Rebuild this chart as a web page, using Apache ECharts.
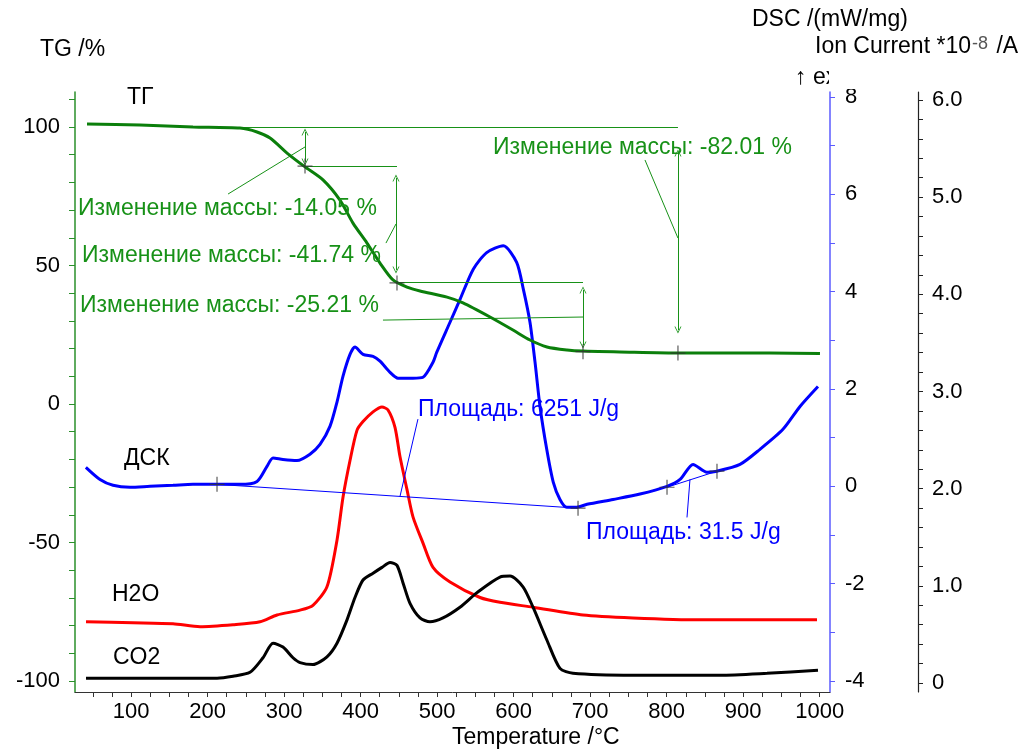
<!DOCTYPE html>
<html>
<head>
<meta charset="utf-8">
<script src="https://cdn.jsdelivr.net/npm/echarts@6/dist/echarts.min.js"></script>
<style>
  html, body { margin: 0; padding: 0; background: #fff; }
  #chart { width: 1024px; height: 749px; }
</style>
</head>
<body>
<div id="chart"></div>
<script>
// TG curve (%)
const tgTemp = [42.5, 111.8, 181, 242.4, 264.7, 281.7, 303.9, 327.4, 350.9, 373.1, 390.1, 408.4, 425.4, 442.4, 460.7, 477.7, 513, 533.9, 569.2, 599.2, 621.4, 643.6, 669.8, 690.7, 739, 817.5, 935, 1000.4]
const tgVal = [101.1, 100.7, 100, 99.6, 98.2, 96.0, 90.6, 85.6, 80.9, 73.6, 65.3, 58.1, 50.9, 44.8, 42.2, 40.8, 38.6, 36.5, 31.4, 26.7, 23.1, 20.6, 19.5, 19.1, 18.8, 18.4, 18.4, 18.2]

// DSC curve (mW/mg)
const dscTemp = [41, 59.5, 76.5, 98.7, 124.8, 154.9, 181, 212.4, 242.4, 264.7, 277.7, 285.6, 298.6, 316.9, 333.9, 347, 360, 369.2, 377, 386.2, 392.7, 403.2, 416.3, 425.4, 438.5, 448.9, 468.5, 481.6, 494.7, 499.5, 516.9, 530, 547.3, 564.8, 586.5, 604, 612.7, 621.4, 628, 634.5, 643.3, 651.9, 660.6, 669.4, 682.4, 696, 730, 765.2, 800.5, 817.5, 834.5, 852.7, 865.8, 895.9, 922, 952, 974.3, 997.8]
const dscVal = [0.39, 0.14, 0.02, -0.02, 0.0, 0.02, 0.04, 0.04, 0.04, 0.10, 0.41, 0.58, 0.55, 0.53, 0.66, 0.86, 1.23, 1.73, 2.26, 2.71, 2.86, 2.71, 2.67, 2.57, 2.34, 2.22, 2.22, 2.24, 2.55, 2.75, 3.37, 3.84, 4.46, 4.80, 4.94, 4.60, 4.05, 3.37, 2.55, 1.64, 0.76, 0.08, -0.27, -0.43, -0.43, -0.37, -0.27, -0.16, 0.0, 0.14, 0.45, 0.29, 0.31, 0.45, 0.76, 1.17, 1.64, 2.05]

// Ion current *10^-8 A
const h2oTemp = [41.2, 102.6, 154.9, 190.2, 233.3, 268.6, 290.8, 320.9, 337.8, 356.1, 369.2, 377, 386.2, 395.3, 403.2, 416.3, 428, 435.9, 445, 451.5, 460.7, 468.5, 481.6, 494.7, 516.9, 556.1, 582.2, 625.4, 690.7, 756, 843.6, 996.5]
const h2oVal = [0.63, 0.62, 0.61, 0.58, 0.60, 0.63, 0.70, 0.75, 0.80, 0.99, 1.47, 1.91, 2.29, 2.60, 2.69, 2.79, 2.84, 2.81, 2.63, 2.33, 1.99, 1.71, 1.44, 1.19, 1.04, 0.88, 0.83, 0.78, 0.70, 0.67, 0.65, 0.65]
const co2Temp = [41.2, 212.4, 233.3, 255.5, 272.5, 285.6, 298.6, 311.7, 320.9, 337.8, 356.1, 369.2, 382.3, 392.7, 403.2, 416.3, 428, 438.5, 447.6, 455.5, 464.6, 477.7, 490.7, 507.7, 529.9, 552.2, 582.2, 595.3, 612.3, 625.4, 643.6, 660.6, 677.6, 756, 869.7, 931.2, 997.8]
const co2Val = [0.05, 0.05, 0.07, 0.11, 0.26, 0.41, 0.37, 0.26, 0.21, 0.19, 0.27, 0.41, 0.65, 0.88, 1.06, 1.13, 1.19, 1.24, 1.21, 1.03, 0.82, 0.67, 0.63, 0.67, 0.78, 0.93, 1.09, 1.10, 0.99, 0.78, 0.44, 0.15, 0.10, 0.08, 0.08, 0.10, 0.13]

// evaluation points (step marks)
const tgMarkTemp = [327.4, 447.6, 690.7, 814.8]
const tgMarkVal = [85.9, 43.7, 18.9, 18.4]
const dscMarkTemp = [212.4, 684.2, 800.5, 865.8]
const dscMarkVal = [0.04, -0.45, -0.02, 0.31]

// tick labels
const xLabels = [100, 200, 300, 400, 500, 600, 700, 800, 900, 1000]
const tgLabels = [-100, -50, 0, 50, 100]
const dscLabels = [-4, -2, 0, 2, 4, 6, 8]
const ionLabels = [0, 1, 2, 3, 4, 5, 6]

const FONT = 'Liberation Sans'
const GREEN = '#0b7f0b'
const GREEN_T = '#179117'
const BLUE = '#0000ff'

const zip = (a, b) => a.map((v, i) => [v, b[i]])
const steps = (from, to, st) => {
  const out = []
  for (let v = from; v <= to + 1e-9; v += st) out.push(+v.toFixed(3))
  return out
}

const chevron = 'path://M0,10 L5,0 L10,10 L8.8,10 L5,2.4 L1.2,10 Z'
const plus = 'path://M4.6,0 H5.4 V4.6 H10 V5.4 H5.4 V10 H4.6 V5.4 H0 V4.6 H4.6 Z'

const seg = (a, b, arrows) => [
  { coord: a, symbol: arrows ? chevron : 'none', symbolSize: 7 },
  { coord: b, symbol: arrows ? chevron : 'none', symbolSize: 7 }
]

const txt = (x, y, s, color, extra) => ({
  type: 'text', x: x, y: y, z: 50,
  style: Object.assign({ text: s, fill: color || '#000', font: '23px "' + FONT + '"', verticalAlign: 'middle', textVerticalAlign: 'middle' }, extra || {})
})

const tickFont = { color: '#000', fontSize: 22, fontFamily: FONT }

const myChart = echarts.init(document.getElementById('chart'))
const option = {
  animation: false,
  backgroundColor: '#fff',
  grid: { left: 75, right: 194, top: 92, bottom: 57 },
  xAxis: {
    type: 'value', min: 26.8, max: 1013.5,
    axisLine: { onZero: false, lineStyle: { color: '#333', width: 1 } },
    axisTick: { customValues: steps(50, 1000, 25), length: 5, lineStyle: { color: '#333' } },
    axisLabel: Object.assign({ customValues: xLabels, margin: 9, formatter: v => String(v) }, tickFont),
    splitLine: { show: false }
  },
  yAxis: [
    {
      type: 'value', min: -103.97, max: 112.64, position: 'left',
      axisLine: { show: true, onZero: false, lineStyle: { color: '#2a8f2a', width: 1.5 } },
      axisTick: { show: true, customValues: steps(-100, 110, 10), length: 6, lineStyle: { color: '#2a8f2a' } },
      axisLabel: Object.assign({ customValues: tgLabels, margin: 15 }, tickFont),
      splitLine: { show: false }
    },
    {
      type: 'value', min: -4.226, max: 8.10, position: 'right', offset: 0,
      axisLine: { show: true, onZero: false, lineStyle: { color: '#5b5bff', width: 1.5 } },
      axisTick: { show: true, customValues: steps(-4, 8, 1), length: 5, lineStyle: { color: '#5b5bff' } },
      axisLabel: Object.assign({ customValues: dscLabels, margin: 15 }, tickFont),
      splitLine: { show: false }
    },
    {
      type: 'value', min: -0.0926, max: 6.082, position: 'right', offset: 88,
      axisLine: { show: true, onZero: false, lineStyle: { color: '#222', width: 1.2 } },
      axisTick: { show: true, customValues: steps(0, 6, 0.2), length: 5, lineStyle: { color: '#222' } },
      axisLabel: Object.assign({
        customValues: ionLabels, margin: 14,
        formatter: v => v === 0 ? '0' : v.toFixed(1)
      }, tickFont),
      splitLine: { show: false }
    }
  ],
  series: [
    {
      name: 'TG', type: 'line', yAxisIndex: 0, data: zip(tgTemp, tgVal),
      showSymbol: false, smooth: 0.25,
      lineStyle: { color: GREEN, width: 3 }, z: 5,
      markLine: {
        silent: true, animation: false, symbol: 'none',
        label: { show: false },
        lineStyle: { color: GREEN_T, width: 1, type: 'solid' },
        data: [
          seg([200, 100], [814.8, 100]),
          seg([327.4, 98.2], [327.4, 87.4], true),
          seg([226.8, 75.8], [327.4, 92.8]),
          seg([327.4, 85.95], [447.6, 85.95]),
          seg([446.3, 81.6], [446.3, 48.4], true),
          seg([433.2, 58.1], [446.3, 65.0]),
          seg([447.6, 44.0], [690.7, 44.0]),
          seg([690.7, 41.2], [690.7, 21.3], true),
          seg([429.3, 30.3], [690.7, 31.4]),
          seg([814.8, 90.6], [814.8, 26.7], true),
          seg([771.7, 88.1], [814.8, 59.9])
        ]
      }
    },
    {
      name: 'DSC', type: 'line', yAxisIndex: 1, data: zip(dscTemp, dscVal),
      showSymbol: false, smooth: 0.25,
      lineStyle: { color: BLUE, width: 3 }, z: 4,
      markLine: {
        silent: true, animation: false, symbol: 'none',
        label: { show: false },
        lineStyle: { color: BLUE, width: 1, type: 'solid' },
        data: [
          seg([212.4, 0.04], [684.2, -0.45]),
          seg([800.5, -0.02], [865.8, 0.31]),
          seg([451.5, -0.21], [475, 1.38]),
          seg([826.6, -0.64], [830.5, 0.14])
        ]
      }
    },
    {
      name: 'H2O', type: 'line', yAxisIndex: 2, data: zip(h2oTemp, h2oVal),
      showSymbol: false, smooth: 0.25,
      lineStyle: { color: '#ff0000', width: 3 }, z: 3
    },
    {
      name: 'CO2', type: 'line', yAxisIndex: 2, data: zip(co2Temp, co2Val),
      showSymbol: false, smooth: 0.25,
      lineStyle: { color: '#000', width: 3 }, z: 3
    },
    {
      type: 'scatter', yAxisIndex: 0, data: zip(tgMarkTemp, tgMarkVal),
      symbol: plus, symbolSize: 15, itemStyle: { color: '#333' }, z: 8, silent: true
    },
    {
      type: 'scatter', yAxisIndex: 1, data: zip(dscMarkTemp, dscMarkVal),
      symbol: plus, symbolSize: 15, itemStyle: { color: '#333' }, z: 8, silent: true
    }
  ],
  graphic: [
    txt(40, 50, 'TG /%'),
    txt(752, 20, 'DSC /(mW/mg)'),
    {
      type: 'text', x: 815, y: 47, z: 50,
      style: {
        text: '{a|Ion Current *10}{b|-8}{a| /A}',
        verticalAlign: 'middle',
        rich: {
          a: { fontSize: 23, fontFamily: FONT, fill: '#000' },
          b: { fontSize: 18, fontFamily: FONT, fill: '#555', padding: [0, 2, 6, 1] }
        }
      }
    },
    txt(795, 78, '↑ exo'),
    { type: 'rect', z: 60, shape: { x: 829, y: 62, width: 40, height: 27 }, style: { fill: '#fff' } },
    txt(127, 98, 'ТГ'),
    txt(124, 459, 'ДСК'),
    txt(112, 595, 'H2O'),
    txt(113, 658, 'CO2'),
    txt(78, 209, 'Изменение массы: -14.05 %', GREEN_T),
    txt(82, 256, 'Изменение массы: -41.74 %', GREEN_T),
    txt(80, 306, 'Изменение массы: -25.21 %', GREEN_T),
    txt(493, 148, 'Изменение массы: -82.01 %', GREEN_T),
    txt(418, 410, 'Площадь: 6251 J/g', BLUE),
    txt(586, 533, 'Площадь: 31.5 J/g', BLUE),
    txt(452, 738, 'Temperature /°C')
  ]
}
myChart.setOption(option)
</script>
</body>
</html>
